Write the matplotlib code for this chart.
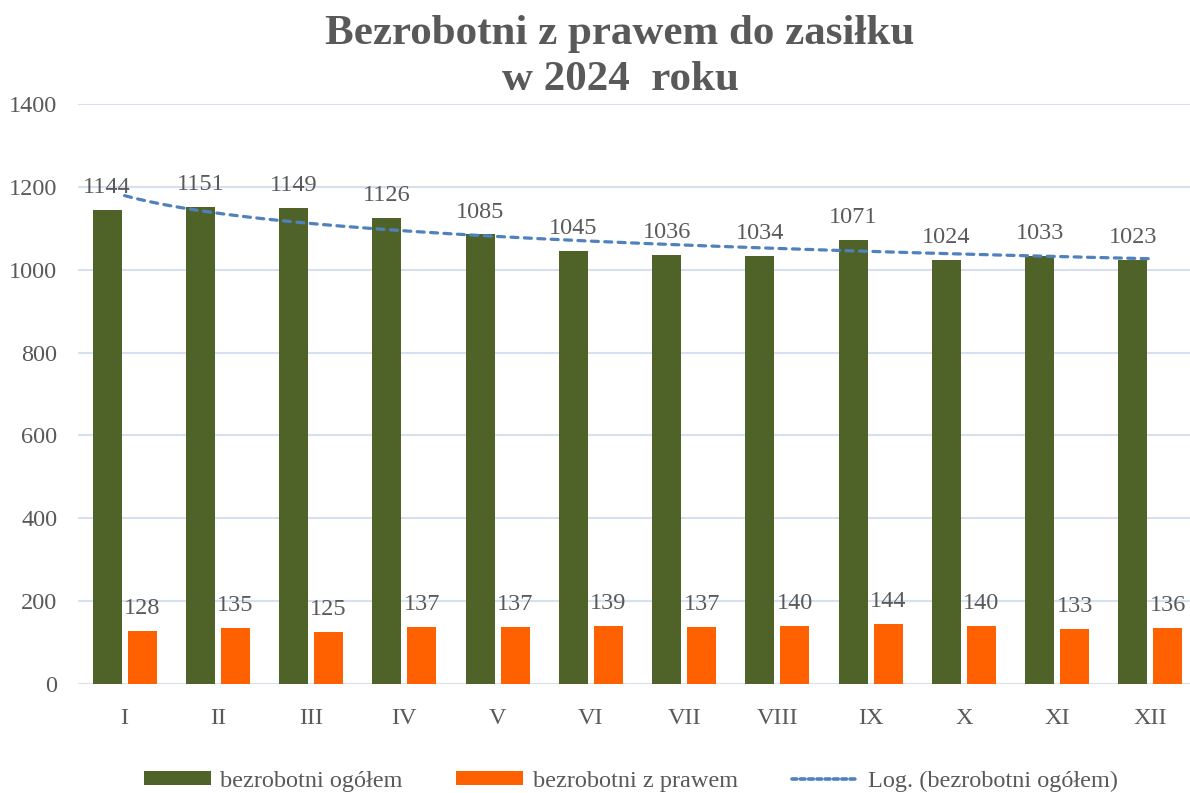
import numpy as np
import matplotlib
matplotlib.use("Agg")
import matplotlib.pyplot as plt
from matplotlib.patches import Patch
from matplotlib.lines import Line2D

months = ["I", "II", "III", "IV", "V", "VI", "VII", "VIII", "IX", "X", "XI", "XII"]
ogolem = [1144, 1151, 1149, 1126, 1085, 1045, 1036, 1034, 1071, 1024, 1033, 1023]
z_prawem = [128, 135, 125, 137, 137, 139, 137, 140, 144, 140, 133, 136]
title = "Bezrobotni z prawem do zasiłku\nw 2024  roku"
labels = ["bezrobotni ogółem", "bezrobotni z prawem", "Log. (bezrobotni ogółem)"]

GREEN = "#4F6228"
ORANGE = "#FF6000"
BLUE = "#4F81BD"
TXT = "#595959"
GRID = "#D6E0F0"

plt.rcParams["font.family"] = ["Liberation Serif", "DejaVu Serif"]

fig = plt.figure(figsize=(11.9, 7.93), dpi=100)
ax = fig.add_axes([78 / 1190, 1 - 684 / 793, (1197 - 78) / 1190, 580 / 793])

x = np.arange(len(months))
w = 0.31
off = 0.1875
ax.bar(x - off, ogolem, w, color=GREEN, zorder=3)
ax.bar(x + off, z_prawem, w, color=ORANGE, zorder=3)

# logarithmic trendline fitted to ogolem
t = x + 1
a, b = np.polyfit(np.log(t), ogolem, 1)
tt = np.linspace(1, len(months), 200)
trend = a * np.log(tt) + b
ax.plot(tt - 1, trend, color=BLUE, lw=2.3, dashes=(2.2, 2.0),
        dash_capstyle="round", zorder=4)

for xi, v in zip(x, ogolem):
    ax.annotate(str(v), (xi - off, v), xytext=(0, 12.2), textcoords="offset points",
                ha="center", va="baseline", fontsize=17.5, color=TXT, zorder=5)
for xi, v in zip(x, z_prawem):
    ax.annotate(str(v), (xi + off, v), xytext=(0, 12.2), textcoords="offset points",
                ha="center", va="baseline", fontsize=17.5, color=TXT, zorder=5)

ax.set_xlim(-0.5, len(months) - 0.5)
ax.set_ylim(0, 1400)
ax.set_yticks(range(0, 1401, 200))
ax.set_xticks(x)
ax.set_xticklabels(months)
ax.tick_params(axis="both", length=0, labelsize=17.5, colors=TXT)
ax.tick_params(axis="y", pad=15)
ax.tick_params(axis="x", pad=17)
ax.grid(axis="y", color=GRID, lw=1.5, zorder=0)
for s in ax.spines.values():
    s.set_visible(False)

fig.text(620 / 1190, 1 - 57 / 793, title, ha="center", va="center",
         fontsize=31, fontweight="bold", color=TXT, linespacing=1.27)

handles = [Patch(facecolor=GREEN), Patch(facecolor=ORANGE),
           Line2D([0], [0], color=BLUE, lw=2.6, dashes=(1.3, 1.0), dash_capstyle="round")]
fig.legend(handles, labels, loc="center", bbox_to_anchor=(631 / 1190, 1 - 781 / 793),
           ncol=3, frameon=False, fontsize=17.5, labelcolor=TXT,
           handlelength=2.75, handleheight=0.55, handletextpad=0.4, columnspacing=2.2)

fig.savefig("out.png", dpi=100)
